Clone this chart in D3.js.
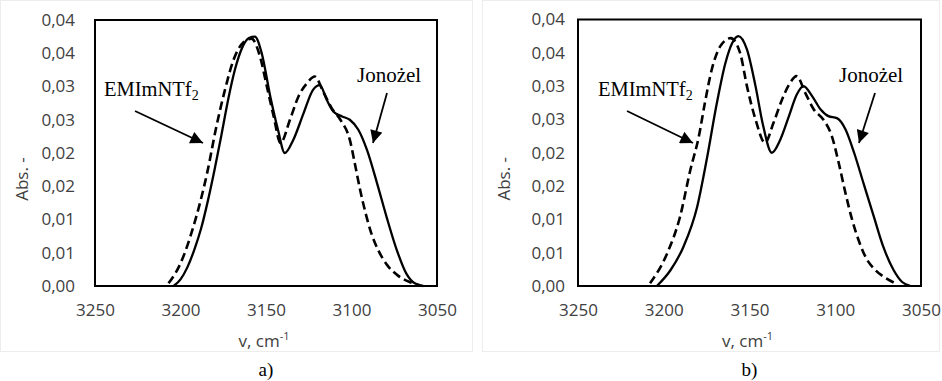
<!DOCTYPE html>
<html>
<head>
<meta charset="utf-8">
<script src="https://cdn.jsdelivr.net/npm/d3@7"></script>
<style>
  body { margin: 0; background: #fff; }
  svg { display: block; }
</style>
</head>
<body>
<div id="chart"></div>
<script>
// IR spectra, two panels a) and b)

// y ticks (Excel-style labels with 2 decimals)
const yTicks = [0, 0.005, 0.01, 0.015, 0.02, 0.025, 0.03, 0.035, 0.04];
const yTickLabels = ["0,00", "0,01", "0,01", "0,02", "0,02", "0,03", "0,03", "0,04", "0,04"];
const xTicks = [3250, 3200, 3150, 3100, 3050];

// panel a) - Jonożel (solid)
const aGelWn  = [3204, 3200, 3196, 3192, 3188, 3184, 3180, 3176, 3172, 3168, 3164, 3160, 3156.5, 3152.5, 3147.5, 3143, 3139, 3134, 3128, 3122.5, 3118.5, 3114.5, 3110.5, 3105.5, 3101, 3096, 3091, 3085, 3079.5, 3073.5, 3068, 3063, 3058];
const aGelAbs = [0, 0.0010, 0.0028, 0.0054, 0.0086, 0.0128, 0.0176, 0.0228, 0.0282, 0.0327, 0.0358, 0.0373, 0.0375, 0.0350, 0.0285, 0.0235, 0.0200, 0.0220, 0.0260, 0.0295, 0.0302, 0.0280, 0.0262, 0.0255, 0.0250, 0.0235, 0.0205, 0.0154, 0.0104, 0.0054, 0.0019, 0.0004, 0];
// panel a) - EMImNTf2 (dashed)
const aIlWn  = [3207, 3200, 3192.5, 3184.5, 3179, 3174, 3169, 3163, 3158.5, 3153.5, 3149.5, 3145.5, 3141.5, 3136, 3131, 3126, 3121.5, 3116.5, 3111.5, 3106.5, 3101, 3097.5, 3095, 3092, 3088.5, 3084, 3079, 3073, 3066, 3060];
const aIlAbs = [0.0004, 0.0034, 0.0089, 0.0169, 0.0240, 0.0295, 0.0340, 0.0367, 0.0372, 0.0345, 0.0300, 0.0255, 0.0215, 0.0250, 0.0285, 0.0305, 0.0315, 0.0292, 0.0267, 0.0250, 0.0220, 0.0177, 0.0145, 0.0112, 0.0080, 0.0052, 0.0031, 0.0016, 0.0006, 0.0001];

// panel b) - Jonożel (solid)
const bGelWn  = [3204, 3196, 3188.5, 3180.5, 3175, 3169, 3164, 3160, 3156.5, 3151.5, 3146.5, 3142, 3137, 3132, 3127, 3122.5, 3118.5, 3113.5, 3108.5, 3104, 3099, 3094, 3089, 3083.5, 3077.5, 3072, 3066, 3061, 3056];
const bGelAbs = [0, 0.0024, 0.0059, 0.0119, 0.0189, 0.0275, 0.0335, 0.0365, 0.0375, 0.0355, 0.0300, 0.0240, 0.0200, 0.0220, 0.0255, 0.0287, 0.0300, 0.0285, 0.0265, 0.0255, 0.0252, 0.0235, 0.0200, 0.0154, 0.0104, 0.0059, 0.0024, 0.0006, 0];
// panel b) - EMImNTf2 (dashed)
const bIlWn  = [3208, 3198, 3190.5, 3184.5, 3179.5, 3176, 3172, 3167, 3161, 3155.5, 3151.5, 3146.5, 3141, 3136, 3131, 3127, 3122.5, 3117.5, 3112.5, 3107, 3102, 3098, 3094, 3090, 3086, 3082, 3077, 3070, 3064];
const bIlAbs = [0.0004, 0.0049, 0.0104, 0.0174, 0.0225, 0.0275, 0.0325, 0.0360, 0.0372, 0.0350, 0.0300, 0.0250, 0.0215, 0.0245, 0.0280, 0.0302, 0.0315, 0.0290, 0.0265, 0.0250, 0.0225, 0.0185, 0.0139, 0.0098, 0.0066, 0.0042, 0.0025, 0.0011, 0.0003];

const width = 942, height = 381;
const svg = d3.select("#chart").append("svg")
  .attr("width", width)
  .attr("height", height);

const defs = svg.append("defs");
defs.append("marker")
  .attr("id", "arrow")
  .attr("viewBox", "0 0 10 10")
  .attr("refX", 10).attr("refY", 5)
  .attr("markerWidth", 7.5).attr("markerHeight", 7)
  .attr("markerUnits", "strokeWidth")
  .attr("orient", "auto")
  .append("path")
  .attr("d", "M0,0 L10,5 L0,10 Z")
  .attr("fill", "#000");

const zip = (wn, abs) => wn.map((w, i) => ({ wn: w, abs: abs[i] }));

const tickFont = "'Open Sans', 'Noto Sans', sans-serif";
const serifFont = "'Liberation Serif', 'DejaVu Serif', serif";
const grey = "#404040";

function drawPanel(p) {
  const x = d3.scaleLinear().domain([3250, 3050]).range([p.left, p.right]);
  const y = d3.scaleLinear().domain([0, 0.04]).range([p.bottom, p.top]);
  const g = svg.append("g");

  // faint chart-area border
  g.append("rect")
    .attr("x", p.areaX).attr("y", 0.5)
    .attr("width", p.areaW).attr("height", 351)
    .attr("fill", "none")
    .attr("stroke", "#ededed");

  const line = d3.line()
    .x(d => x(d.wn))
    .y(d => y(d.abs))
    .curve(d3.curveMonotoneX);

  // dashed EMImNTf2
  g.append("path")
    .datum(zip(p.ilWn, p.ilAbs))
    .attr("d", line)
    .attr("fill", "none")
    .attr("stroke", "#000")
    .attr("stroke-width", 2.6)
    .attr("stroke-dasharray", "8.5,4.5");

  // solid Jonożel
  g.append("path")
    .datum(zip(p.gelWn, p.gelAbs))
    .attr("d", line)
    .attr("fill", "none")
    .attr("stroke", "#000")
    .attr("stroke-width", 2.3);

  // plot frame
  g.append("rect")
    .attr("x", p.left).attr("y", p.top)
    .attr("width", p.right - p.left).attr("height", p.bottom - p.top)
    .attr("fill", "none")
    .attr("stroke", "#000")
    .attr("stroke-width", 2);

  // axes
  const yAxis = g.append("g")
    .attr("transform", `translate(${p.left},0)`)
    .call(d3.axisLeft(y).tickValues(yTicks).tickSize(0).tickPadding(p.yPad)
      .tickFormat((d, i) => yTickLabels[i]));
  const xAxis = g.append("g")
    .attr("transform", `translate(0,${p.bottom})`)
    .call(d3.axisBottom(x).tickValues(xTicks).tickSize(0).tickPadding(18)
      .tickFormat(d3.format("d")));
  [yAxis, xAxis].forEach(a => {
    a.select(".domain").remove();
    a.selectAll("text")
      .attr("font-family", tickFont)
      .attr("font-size", 17)
      .attr("fill", grey);
  });

  // axis titles
  g.append("text")
    .attr("transform", `translate(${p.yTitleX},${(p.top + p.bottom) / 2 + 26}) rotate(-90)`)
    .attr("text-anchor", "middle")
    .attr("font-family", tickFont)
    .attr("font-size", 17)
    .attr("fill", grey)
    .text("Abs. -");

  const xt = g.append("text")
    .attr("x", x(3150) - 2).attr("y", 347)
    .attr("text-anchor", "middle")
    .attr("font-family", tickFont)
    .attr("font-size", 17)
    .attr("fill", grey);
  xt.append("tspan").text("v, cm");
  xt.append("tspan").attr("dy", -7).attr("font-size", 11).text("-1");

  // panel letter
  g.append("text")
    .attr("x", x(3150)).attr("y", 376)
    .attr("text-anchor", "middle")
    .attr("font-family", serifFont)
    .attr("font-size", 19)
    .text(p.letter);

  // annotations
  const em = g.append("text")
    .attr("x", p.emX).attr("y", 96)
    .attr("font-family", serifFont)
    .attr("font-size", 20.5);
  em.append("tspan").text("EMImNTf");
  em.append("tspan").attr("dy", 4).attr("font-size", 14).text("2");

  g.append("text")
    .attr("x", p.joX).attr("y", 82)
    .attr("font-family", serifFont)
    .attr("font-size", 21)
    .text("Jonożel");

  g.append("line")
    .attr("x1", p.emArrow[0]).attr("y1", p.emArrow[1])
    .attr("x2", p.emArrow[2]).attr("y2", p.emArrow[3])
    .attr("stroke", "#000").attr("stroke-width", 1.8)
    .attr("marker-end", "url(#arrow)");
  g.append("line")
    .attr("x1", p.joArrow[0]).attr("y1", p.joArrow[1])
    .attr("x2", p.joArrow[2]).attr("y2", p.joArrow[3])
    .attr("stroke", "#000").attr("stroke-width", 1.8)
    .attr("marker-end", "url(#arrow)");
}

drawPanel({
  letter: "a)", left: 95, right: 437, top: 20, bottom: 286,
  areaX: 0.5, areaW: 472, yPad: 20, yTitleX: 28,
  gelWn: aGelWn, gelAbs: aGelAbs, ilWn: aIlWn, ilAbs: aIlAbs,
  emX: 104, joX: 357,
  emArrow: [135, 111, 203, 143], joArrow: [387, 93, 373, 143]
});

drawPanel({
  letter: "b)", left: 578, right: 921, top: 19.5, bottom: 286,
  areaX: 482.5, areaW: 457, yPad: 13, yTitleX: 510,
  gelWn: bGelWn, gelAbs: bGelAbs, ilWn: bIlWn, ilAbs: bIlAbs,
  emX: 598, joX: 839,
  emArrow: [627, 111, 693, 143], joArrow: [875, 93, 859, 143]
});
</script>
</body>
</html>
